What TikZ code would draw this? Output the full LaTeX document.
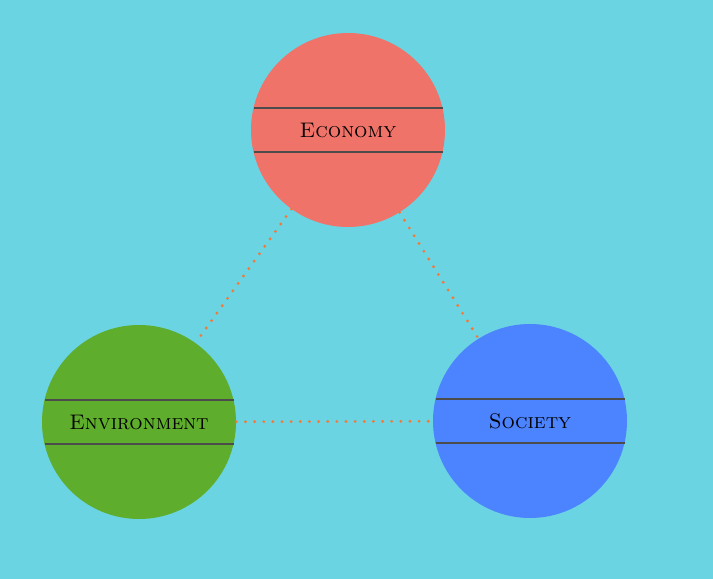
\documentclass[tikz,border=0pt]{standalone}
\usepackage{xcolor}
\definecolor{sky}{HTML}{6AD4E2}
\definecolor{ecocol}{HTML}{F0736A}
\definecolor{envcol}{HTML}{5FAD2C}
\definecolor{soccol}{HTML}{4C83FF}
\definecolor{dotcol}{HTML}{F07A3A}
\tikzset{
  pillar/.style={circle,minimum size=3.88cm,inner sep=0pt,font=\large\scshape},
  dotlink/.style={dotcol,line width=1.8pt,line cap=round,dash pattern=on 0pt off 5.2pt}
}
\begin{document}
\begin{tikzpicture}
  \fill[sky] (0,0) rectangle (14.26,11.58);
  \node[pillar,fill=ecocol] (eco) at (6.96,8.98) {Economy};
  \node[pillar,fill=envcol] (env) at (2.78,3.14) {Environment};
  \node[pillar,fill=soccol] (soc) at (10.6,3.16) {Society};
  % chords through each circle
  \foreach \n in {eco,env,soc}
  {
    \draw[black!70,line width=0.6pt] ([shift={(-1.89,0.44)}]\n.center)--([shift={(1.89,0.44)}]\n.center);
    \draw[black!70,line width=0.6pt] ([shift={(-1.89,-0.44)}]\n.center)--([shift={(1.89,-0.44)}]\n.center);
  }
  \draw[dotlink] (eco) -- (env);
  \draw[dotlink] (eco) -- (soc);
  \draw[dotlink] (env) -- (soc);
\end{tikzpicture}
\end{document}
